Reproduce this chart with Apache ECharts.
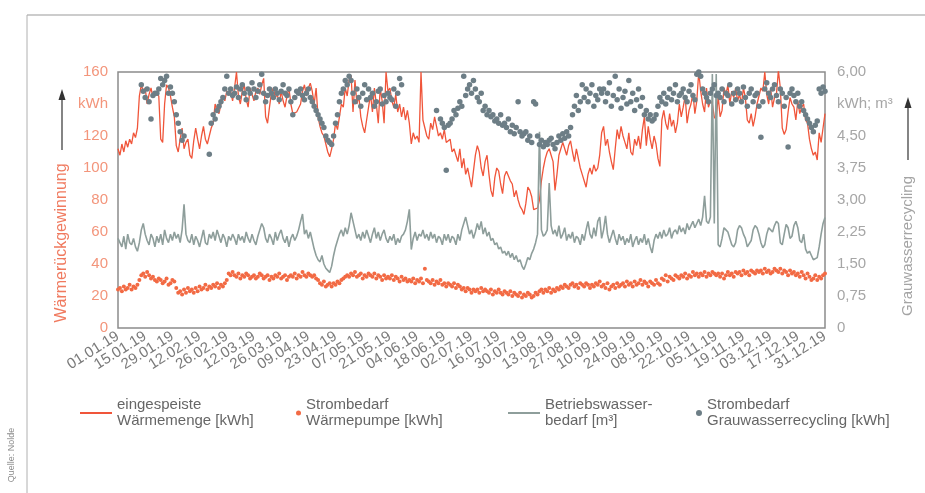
<!DOCTYPE html>
<html>
<head>
<meta charset="utf-8">
<script src="https://cdn.jsdelivr.net/npm/echarts@6/dist/echarts.min.js"></script>
<style>
html,body{margin:0;padding:0;background:#ffffff;}
#chart{width:925px;height:493px;}
</style>
</head>
<body>
<div id="chart"></div>
<script>
// ---- data (daily values 2019) ----
const tickLabels = ["01.01.19","15.01.19","29.01.19","12.02.19","26.02.19","12.03.19","26.03.19","09.04.19","23.04.19","07.05.19","21.05.19","04.06.19","18.06.19","02.07.19","16.07.19","30.07.19","13.08.19","27.08.19","10.09.19","24.09.19","08.10.19","22.10.19","05.11.19","19.11.19","03.12.19","17.12.19","31.12.19"];

const leftTicks = ["0","20","40","60","80","100","120","kWh","160"];
const rightTicks = ["0","0,75","1,50","2,25","3,00","3,75","4,50","kWh; m³","6,00"];

const seriesNames = ["eingespeiste Wärmemenge [kWh]","Strombedarf Wärmepumpe [kWh]","Betriebswasserbedarf [m³]","Strombedarf Grauwasserrecycling [kWh]"];
const legendLabels = ["eingespeiste\nWärmemenge [kWh]","Strombedarf\nWärmepumpe [kWh]","Betriebswasser-\nbedarf [m³]","Strombedarf\nGrauwasserrecycling [kWh]"];

const waermemenge = [
112,108,115,110,117,113,118,115,122,119,
125,145,152,148,150,140,146,150,144,147,
148,145,118,116,140,152,150,145,138,132,
114,110,118,125,112,116,118,108,106,117,
125,118,112,120,126,118,115,120,125,128,
140,136,134,140,145,142,148,146,148,142,
150,160,145,140,148,152,143,138,150,146,
142,148,150,146,152,156,132,128,138,147,
150,144,146,140,148,142,138,145,150,140,
134,133,135,134,140,148,152,145,150,153,
148,140,150,132,126,122,120,115,110,107,
112,118,128,124,132,140,138,150,145,155,
158,135,155,140,145,132,126,122,130,138,
146,135,150,140,128,150,142,128,160,148,
150,142,138,146,135,140,132,138,130,136,
128,115,122,118,120,116,160,130,125,120,
118,128,124,132,126,120,122,118,124,116,
115,118,110,112,108,104,112,100,106,96,
100,94,88,98,108,114,110,100,95,104,
108,96,86,82,94,100,98,90,84,95,
98,97,92,90,82,86,80,76,74,71,
78,88,86,82,74,73,75,80,92,100,
106,110,112,108,104,86,96,108,112,116,
112,108,114,117,110,104,112,106,100,96,
92,88,96,100,96,102,98,100,108,122,
126,114,118,110,104,99,112,124,118,126,
120,116,112,122,110,108,118,114,120,112,
124,132,114,126,118,112,120,115,106,101,
130,136,128,124,134,126,130,122,128,140,
132,138,145,128,136,140,147,134,142,160,
148,140,135,150,138,142,140,132,130,145,
132,136,150,146,152,140,148,144,150,142,
146,140,150,144,130,128,134,126,132,140,
145,150,148,160,146,140,150,138,144,146,
161,150,125,121,124,135,144,140,138,130,
142,134,138,140,130,128,118,112,108,110,
105,122,116,125,134];

const waermepumpe = [
24,25,23,26,24,25,27,24,26,25,
27,30,33,34,32,35,33,31,32,30,
29,31,30,28,29,31,27,28,30,29,
25,22,23,21,24,22,25,23,24,22,
25,23,26,24,25,27,24,26,25,27,
26,28,25,27,26,28,30,34,33,35,
33,32,34,31,33,32,34,33,31,32,
33,31,32,34,33,31,32,33,30,32,
31,33,32,34,31,32,33,30,32,33,
32,34,31,33,32,35,33,32,34,33,
32,33,31,30,28,27,29,26,27,28,
26,28,27,29,28,30,31,32,33,32,
34,33,35,32,33,34,31,33,32,34,
33,32,34,31,33,32,30,33,31,32,
31,33,30,32,31,29,32,30,31,29,
30,29,31,28,30,29,31,28,37,30,
29,28,30,27,29,28,30,27,28,26,
28,27,26,28,25,27,26,24,25,23,
25,24,22,24,23,24,22,25,23,24,
23,22,24,21,23,22,24,22,21,23,
22,21,23,20,22,21,20,22,19,21,
20,22,21,19,20,22,21,23,24,22,
24,23,25,22,24,23,25,24,26,25,
27,26,25,27,28,26,27,25,28,27,
26,28,27,25,27,26,28,27,29,26,
27,25,28,24,26,27,25,28,26,27,
28,26,29,27,28,26,29,27,28,30,
27,29,28,26,29,28,27,30,28,27,
31,30,33,29,32,31,30,33,32,31,
33,32,34,31,33,32,35,33,34,32,
34,33,35,32,34,33,35,34,33,34,
32,34,31,33,35,33,34,32,35,34,
35,33,36,34,35,33,36,35,34,36,
35,36,34,37,35,36,34,35,37,36,
35,37,34,36,35,33,36,34,35,33,
34,32,35,33,31,34,32,30,31,33,
30,32,31,33,34];

const betriebswasser = [
2.1,2.0,1.9,2.15,1.85,2.2,2.0,1.95,2.1,1.9,
1.8,2.0,2.3,2.45,2.2,2.05,1.95,2.2,2.1,1.9,
2.15,2.0,2.2,1.95,2.3,2.1,2.0,2.2,2.05,2.25,
2.1,2.2,2.0,2.3,2.9,2.2,2.05,2.0,2.2,1.95,
2.15,2.05,1.9,2.1,2.3,2.0,1.95,2.2,2.1,2.25,
2.05,2.3,2.15,2.0,2.2,2.1,1.9,2.15,2.05,2.2,
2.1,1.95,2.2,2.05,2.15,2.0,2.25,2.1,2.0,2.2,
2.05,1.95,2.15,2.3,2.45,2.35,2.1,2.0,2.2,2.1,
1.95,2.25,2.05,2.2,2.3,2.1,2.0,2.15,1.9,2.1,
2.2,2.05,2.15,2.3,2.5,2.67,2.2,2.3,2.1,2.25,
2.05,1.85,1.7,1.6,1.55,1.7,1.5,1.4,1.35,1.3,
1.45,1.7,1.9,2.05,2.2,2.3,2.15,2.35,2.2,2.4,
2.7,2.5,2.3,2.1,2.2,2.05,2.25,2.1,2.3,2.15,
2.0,2.2,2.35,2.1,2.25,2.05,2.2,2.3,2.1,2.0,
2.15,2.05,2.2,1.95,2.1,2.0,2.15,2.2,2.3,2.5,
2.78,1.84,2.1,2.25,2.05,2.2,2.15,2.3,2.1,2.2,
2.05,2.25,2.1,2.2,2.0,2.15,2.1,1.95,2.2,2.05,
2.2,2.0,2.15,2.1,1.95,2.2,2.05,2.3,2.45,2.6,
2.4,2.2,2.3,2.1,2.25,2.45,2.3,2.5,2.2,2.35,
2.15,2.25,2.05,2.1,1.95,2.0,1.85,1.9,1.75,1.8,
1.7,1.8,1.65,1.75,1.6,1.7,1.55,1.6,1.45,1.37,
1.5,1.65,1.6,1.75,1.85,2.0,2.2,4.6,2.3,2.15,
2.2,2.3,3.4,2.4,2.2,2.3,2.15,2.4,2.1,2.2,
2.35,2.05,2.2,2.1,2.25,2.0,2.15,2.1,1.95,2.2,
2.05,2.3,2.5,2.2,2.1,2.35,2.15,2.5,2.6,2.1,
2.3,2.63,2.2,2.0,2.15,2.3,2.1,1.95,2.2,2.05,
2.15,1.95,2.1,2.0,2.2,1.9,2.05,2.15,1.95,2.1,
2.0,2.2,1.95,2.1,1.9,1.76,2.05,2.2,2.1,2.25,
2.1,2.3,2.15,2.2,2.35,2.1,2.25,2.3,2.2,2.4,
2.25,2.35,2.2,2.45,2.3,2.4,2.5,2.35,2.45,2.55,
2.4,2.6,3.1,2.5,2.45,2.6,5.95,2.45,5.95,1.95,
1.9,2.1,2.35,2.3,2.25,2.1,1.95,1.9,2.0,2.3,
2.4,2.35,2.2,2.1,1.9,1.88,2.05,2.3,2.4,2.35,
2.2,2.0,1.88,1.95,2.2,2.35,2.3,2.25,2.4,2.5,
2.45,2.0,1.95,2.2,2.43,2.35,2.1,2.15,2.4,2.5,
2.35,2.05,2.0,2.2,1.85,1.75,1.8,1.7,1.6,1.57,
1.65,1.9,2.2,2.45,2.59];

const grauwasser = [
null,null,null,null,null,null,null,null,null,null,
null,null,5.7,5.55,5.4,5.6,5.3,4.9,5.45,5.5,
5.5,5.6,5.85,5.7,5.8,5.9,5.5,5.65,5.5,5.3,
5.0,4.8,4.6,4.4,4.5,null,null,null,null,null,
null,null,null,null,null,null,null,4.07,4.8,5.0,
4.9,5.1,5.2,5.3,5.4,5.6,5.9,5.5,5.6,5.45,
5.5,5.65,5.4,5.6,5.7,5.5,5.35,5.6,5.5,5.75,
5.6,5.4,5.55,5.7,5.95,5.5,5.3,5.45,5.6,5.5,
5.4,5.6,5.5,5.35,5.55,5.7,5.5,5.45,5.6,5.3,
5.0,5.4,5.55,5.5,5.6,5.45,5.35,5.5,5.6,5.4,
5.3,5.2,5.1,5.0,4.9,4.8,4.7,4.5,4.4,4.35,
4.3,4.5,4.8,5.0,5.3,5.5,5.6,5.8,5.7,5.9,
5.8,5.5,5.3,5.6,5.4,5.2,5.5,5.7,5.35,5.6,
5.4,5.5,5.2,5.3,5.55,5.6,5.25,5.45,5.3,5.5,
5.4,5.35,5.6,5.2,5.5,5.85,5.7,null,null,null,
null,null,null,null,null,null,null,null,null,null,
null,null,null,null,5.1,null,4.9,4.8,4.7,3.7,
4.75,4.8,4.9,5.1,5.0,5.15,5.3,5.2,5.9,5.45,
5.6,5.7,5.5,5.8,5.6,5.4,5.3,5.5,5.1,5.2,
5.0,5.1,4.95,5.0,4.85,4.9,4.8,5.0,4.75,4.8,
4.7,4.9,4.6,4.75,4.55,4.7,5.3,4.6,4.5,4.55,
4.6,4.4,4.5,4.35,5.3,5.25,4.5,4.3,4.4,4.25,
4.35,4.3,4.4,4.45,4.3,4.2,4.35,4.5,4.4,4.55,
4.45,4.6,4.5,4.7,5.0,5.2,5.45,5.1,5.3,5.7,
5.4,5.6,5.3,5.5,5.7,5.2,5.45,5.35,5.6,5.5,
5.6,5.3,5.5,5.75,5.2,5.45,5.9,5.35,5.6,5.15,
5.4,5.55,5.25,5.8,5.3,5.5,5.1,5.35,5.6,5.2,
5.4,5.0,5.1,4.9,5.0,4.85,4.9,5.0,5.2,5.4,
5.3,5.5,5.25,5.4,5.6,5.35,5.5,5.7,5.3,5.45,
5.5,5.6,5.4,5.3,5.55,5.7,5.45,5.35,5.95,6.0,
5.9,5.6,5.5,5.4,5.3,5.5,5.6,5.7,5.45,5.5,
5.4,5.6,5.3,5.5,5.45,5.7,5.25,5.5,5.35,5.6,
5.5,5.3,5.65,5.4,5.2,5.5,5.6,5.3,5.45,5.5,
5.2,4.47,5.3,5.6,5.75,5.5,5.4,5.6,5.7,5.45,
5.3,5.6,5.5,5.2,5.4,4.24,5.5,5.6,5.45,5.3,
5.5,5.2,5.3,5.1,5.0,4.9,4.8,4.7,4.6,4.75,
4.85,5.6,5.5,5.65,5.55];

[waermemenge, waermepumpe, betriebswasser, grauwasser].forEach(function(a, i){
  if (a.length !== 365) throw new Error('series ' + i + ' has length ' + a.length);
});

// category axis: every day of 2019
const days = [];
(function(){
  const d = new Date(Date.UTC(2019,0,1));
  for (let i = 0; i < 365; i++) {
    const dd = String(d.getUTCDate()).padStart(2,'0');
    const mm = String(d.getUTCMonth()+1).padStart(2,'0');
    days.push(dd + '.' + mm + '.19');
    d.setUTCDate(d.getUTCDate()+1);
  }
})();

const C_RED = '#f0553a';
const C_RED_DOT = '#f26a44';
const C_GREY = '#8e9e9b';
const C_DOT = '#6d7e86';
const FONT = 'Liberation Sans, Arial, sans-serif';

const chart = echarts.init(document.getElementById('chart'), null, {renderer:'canvas'});

function legendItem(i, left, icon, w, h){
  return {
    data: [seriesNames[i]],
    left: left, top: 384,
    icon: icon, itemWidth: w, itemHeight: h,
    selectedMode: false,
    formatter: function(){ return legendLabels[i]; },
    textStyle: {fontFamily: FONT, fontSize: 15, lineHeight: 16, color: '#666', padding: [16,0,0,0]}
  };
}

const option = {
  animation: false,
  backgroundColor: '#ffffff',
  textStyle: {fontFamily: FONT},
  grid: {left: 118, right: 100, top: 72, bottom: 165, show: true, borderColor: '#8c8c8c', borderWidth: 1.5, backgroundColor: 'transparent'},
  legend: [
    legendItem(0, 75, 'rect', 32, 2),
    legendItem(1, 291, 'circle', 5, 5),
    legendItem(2, 503, 'rect', 32, 2),
    legendItem(3, 691, 'circle', 6, 6)
  ],
  xAxis: {
    type: 'category', data: days, boundaryGap: false,
    axisLine: {show: false}, axisTick: {show: false}, splitLine: {show: false},
    axisLabel: {
      interval: 0, rotate: 32, margin: 7, color: '#7a7a7a', fontSize: 15, fontFamily: FONT,
      hideOverlap: false,
      formatter: function(v, idx){ return idx % 14 === 0 ? tickLabels[idx / 14] : ''; }
    }
  },
  yAxis: [
    {type: 'value', min: 0, max: 160, interval: 20, position: 'left',
     axisLine: {show: false}, axisTick: {show: false}, splitLine: {show: false},
     axisLabel: {margin: 10, color: '#f3957b', fontSize: 15, fontFamily: FONT,
       formatter: function(v){ return leftTicks[Math.round(v/20)]; }}},
    {type: 'value', min: 0, max: 6, interval: 0.75, position: 'right',
     axisLine: {show: false}, axisTick: {show: false}, splitLine: {show: false},
     axisLabel: {margin: 12, color: '#a6a6a6', fontSize: 15, fontFamily: FONT,
       formatter: function(v){ return rightTicks[Math.round(v/0.75)]; }}}
  ],
  series: [
    {name: seriesNames[0], type: 'line', yAxisIndex: 0, data: waermemenge, symbol: 'none',
     lineStyle: {color: C_RED, width: 1.3}, itemStyle: {color: C_RED}, z: 2},
    {name: seriesNames[2], type: 'line', yAxisIndex: 1, data: betriebswasser, symbol: 'none',
     lineStyle: {color: C_GREY, width: 1.6}, itemStyle: {color: C_GREY}, z: 2},
    {name: seriesNames[1], type: 'scatter', yAxisIndex: 0, data: waermepumpe, symbolSize: 4,
     itemStyle: {color: C_RED_DOT, opacity: 1}, z: 3},
    {name: seriesNames[3], type: 'scatter', yAxisIndex: 1, data: grauwasser, symbolSize: 5.5,
     itemStyle: {color: C_DOT, opacity: 1}, z: 4}
  ],
  graphic: [
    {type: 'line', shape: {x1: 27, y1: 15, x2: 925, y2: 15}, style: {stroke: '#9a9a9a', lineWidth: 1.2}},
    {type: 'line', shape: {x1: 27, y1: 15, x2: 27, y2: 493}, style: {stroke: '#b0b0b0', lineWidth: 1}},
    {type: 'text', x: 62, y: 243, rotation: Math.PI/2,
     style: {text: 'Wärmerückgewinnung', fill: '#f07a5f', font: '16px ' + FONT, textAlign: 'center', textVerticalAlign: 'middle'}},
    {type: 'line', shape: {x1: 62, y1: 150, x2: 62, y2: 96}, style: {stroke: '#333', lineWidth: 1.2}},
    {type: 'polygon', shape: {points: [[58.5,100],[65.5,100],[62,89]]}, style: {fill: '#333'}},
    {type: 'text', x: 908, y: 246, rotation: Math.PI/2,
     style: {text: 'Grauwasserrecycling', fill: '#a4a4a4', font: '15px ' + FONT, textAlign: 'center', textVerticalAlign: 'middle'}},
    {type: 'line', shape: {x1: 908, y1: 160, x2: 908, y2: 104}, style: {stroke: '#333', lineWidth: 1.2}},
    {type: 'polygon', shape: {points: [[904.5,108],[911.5,108],[908,97]]}, style: {fill: '#333'}},
    {type: 'text', x: 12, y: 455, rotation: Math.PI/2,
     style: {text: 'Quelle: Nolde', fill: '#8a8a8a', font: '9px ' + FONT, textAlign: 'center', textVerticalAlign: 'middle'}}
  ]
};
chart.setOption(option);
</script>
</body>
</html>
